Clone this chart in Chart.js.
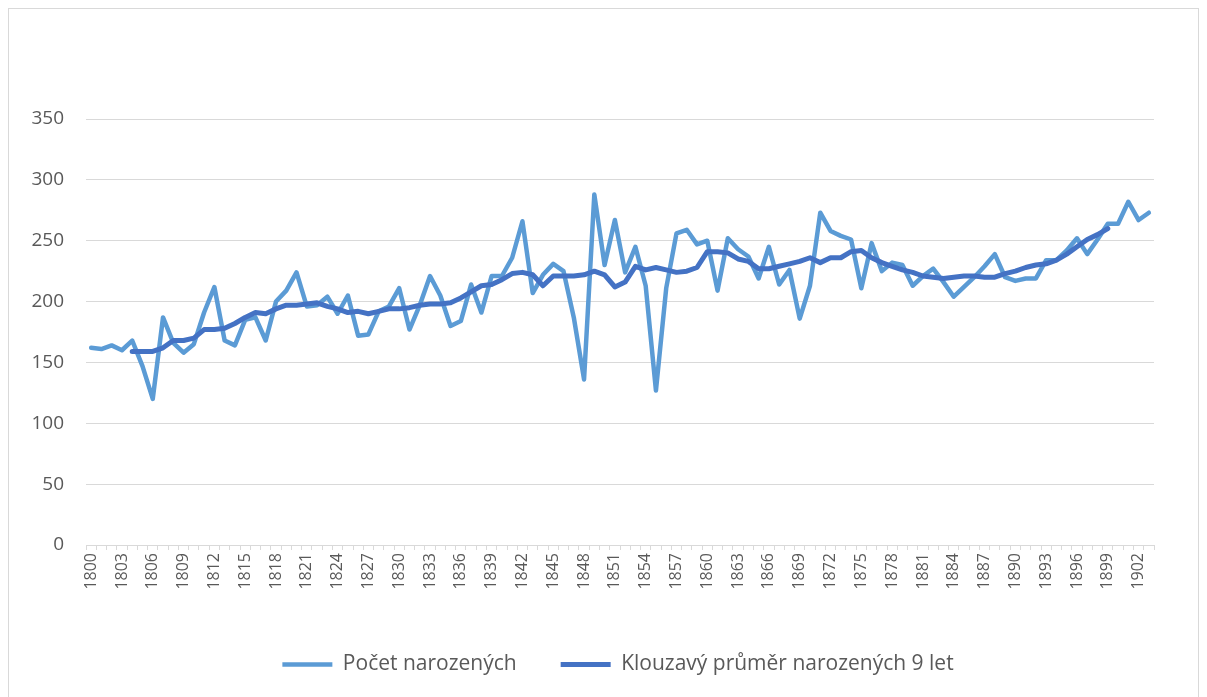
<!DOCTYPE html>
<html>
<head>
<meta charset="utf-8">
<script src="https://cdn.jsdelivr.net/npm/chart.js@4/dist/chart.umd.min.js"></script>
<style>
  html, body { margin: 0; padding: 0; background: #fff; overflow: hidden; }
  #wrap { position: relative; width: 1207px; height: 697px; }
  #frame {
    position: absolute; left: 8px; top: 8px; width: 1191px; height: 720px;
    border: 1px solid #d9d9d9; box-sizing: border-box; pointer-events: none;
  }
</style>
</head>
<body>
<div id="wrap">
  <canvas id="chart" width="1207" height="697"></canvas>
  <div id="frame"></div>
</div>
<script>
  // --- DATA ---
  const years = [
    1800, 1801, 1802, 1803, 1804, 1805, 1806, 1807, 1808, 1809,
    1810, 1811, 1812, 1813, 1814, 1815, 1816, 1817, 1818, 1819,
    1820, 1821, 1822, 1823, 1824, 1825, 1826, 1827, 1828, 1829,
    1830, 1831, 1832, 1833, 1834, 1835, 1836, 1837, 1838, 1839,
    1840, 1841, 1842, 1843, 1844, 1845, 1846, 1847, 1848, 1849,
    1850, 1851, 1852, 1853, 1854, 1855, 1856, 1857, 1858, 1859,
    1860, 1861, 1862, 1863, 1864, 1865, 1866, 1867, 1868, 1869,
    1870, 1871, 1872, 1873, 1874, 1875, 1876, 1877, 1878, 1879,
    1880, 1881, 1882, 1883, 1884, 1885, 1886, 1887, 1888, 1889,
    1890, 1891, 1892, 1893, 1894, 1895, 1896, 1897, 1898, 1899,
    1900, 1901, 1902, 1903
  ];

  const births = [
    162, 161, 164, 160, 168, 147, 120, 187, 166, 158,
    165, 191, 212, 168, 164, 185, 187, 168, 200, 209,
    224, 196, 197, 204, 190, 205, 172, 173, 192, 196,
    211, 177, 197, 221, 205, 180, 184, 214, 191, 221,
    221, 236, 266, 207, 222, 231, 225, 187, 136, 288,
    230, 267, 224, 245, 213, 127, 211, 256, 259, 247,
    250, 209, 252, 243, 237, 219, 245, 214, 226, 186,
    213, 273, 258, 254, 251, 211, 248, 225, 232, 230,
    213, 221, 227, 216, 204, 212, 220, 229, 239, 220,
    217, 219, 219, 234, 234, 242, 252, 239, 251, 264,
    264, 282, 267, 273
  ];

  const movingAvg = [
    null, null, null, null, 159, 159, 159, 162, 168, 168,
    170, 177, 177, 178, 182, 187, 191, 190, 194, 197,
    197, 198, 199, 196, 194, 191, 192, 190, 192, 194,
    194, 195, 197, 198, 198, 199, 203, 208, 213, 214,
    218, 223, 224, 222, 213, 221, 221, 221, 222, 225,
    222, 212, 216, 229, 226, 228, 226, 224, 225, 228,
    241, 241, 240, 235, 233, 227, 227, 229, 231, 233,
    236, 232, 236, 236, 241, 242, 236, 232, 229, 226,
    224, 221, 220, 219, 220, 221, 221, 220, 220, 223,
    225, 228, 230, 231, 234, 239, 245, 251, 255, 260,
    null, null, null, null
  ];

  const yTicks = [0, 50, 100, 150, 200, 250, 300, 350];

  const seriesNames = ["Počet narozených", "Klouzavý průměr narozených 9 let"];

  // --- CHART ---
  const textColor = "#595959";
  const gridColor = "#d9d9d9";
  const fontFamily = "'Open Sans', 'Noto Sans', sans-serif";

  const ctx = document.getElementById("chart").getContext("2d");
  new Chart(ctx, {
    type: "line",
    data: {
      labels: years,
      datasets: [
        {
          label: seriesNames[0],
          data: births,
          borderColor: "#5b9bd5",
          backgroundColor: "#5b9bd5",
          borderWidth: 4.5,
          borderJoinStyle: "round",
          borderCapStyle: "round",
          pointRadius: 0,
          tension: 0,
          order: 1,
        },
        {
          label: seriesNames[1],
          data: movingAvg,
          borderColor: "#4472c4",
          backgroundColor: "#4472c4",
          borderWidth: 5,
          borderJoinStyle: "round",
          borderCapStyle: "round",
          pointRadius: 0,
          tension: 0,
          order: 0,
        },
      ],
    },
    options: {
      responsive: false,
      animation: false,
      layout: {
        padding: { left: 29, right: 0, top: 119, bottom: 12 },
      },
      plugins: {
        tooltip: { enabled: false },
        legend: {
          position: "bottom",
          labels: {
            usePointStyle: true,
            pointStyle: "line",
            pointStyleWidth: 50,
            boxWidth: 50,
            boxHeight: 21,
            padding: 44,
            color: textColor,
            font: { family: fontFamily, size: 21 },
            sort: (a, b) => a.datasetIndex - b.datasetIndex,
          },
        },
      },
      scales: {
        x: {
          offset: true,
          grid: {
            offset: true,
            drawOnChartArea: false,
            drawTicks: true,
            tickLength: 5,
            color: gridColor,
          },
          border: { display: true, color: gridColor, width: 1 },
          ticks: {
            autoSkip: false,
            minRotation: 90,
            maxRotation: 90,
            padding: 3,
            color: textColor,
            font: { family: fontFamily, size: 16 },
            callback: function (value, index) {
              return index % 3 === 0 ? String(years[index]) : "";
            },
          },
          afterFit: (scale) => {
            scale.height = 65;
          },
        },
        y: {
          min: yTicks[0],
          max: yTicks[yTicks.length - 1],
          afterBuildTicks: (scale) => {
            scale.ticks = yTicks.map((v) => ({ value: v }));
          },
          grid: { color: gridColor, drawTicks: false },
          border: { display: false },
          ticks: {
            padding: 22,
            color: textColor,
            font: { family: fontFamily, size: 19 },
          },
          afterFit: (scale) => {
            scale.width = 57;
          },
        },
        // empty right-hand gutter so the plot ends where the reference does
        gutter: {
          type: "linear",
          position: "right",
          display: true,
          grid: { display: false },
          border: { display: false },
          ticks: { display: false },
          afterFit: (scale) => {
            scale.width = 53;
          },
        },
      },
    },
  });
</script>
</body>
</html>
